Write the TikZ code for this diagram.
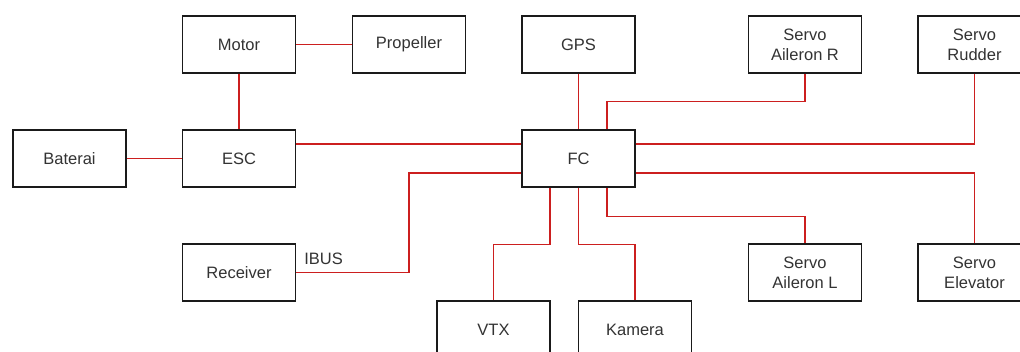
\documentclass[tikz,border=0pt]{standalone}
\usepackage{fontspec}
\setmainfont{Liberation Sans}
\definecolor{wire}{HTML}{CC1F1F}
\definecolor{txt}{HTML}{333333}
\definecolor{edge}{HTML}{1A1A1A}
\begin{document}
\begin{tikzpicture}[x=1pt,y=-1pt,
  blk/.style={draw=edge,line width=1.3pt,fill=white,rectangle,minimum width=113pt,minimum height=57pt,
    inner sep=0pt,align=center,text=txt,font=\fontsize{16.5}{20}\selectfont},
  wirel/.style={draw=wire,line width=1.4pt},
  lbl/.style={text=txt,font=\fontsize{16.5}{20}\selectfont,inner sep=0pt}]
\useasboundingbox (0,0) rectangle (1020,352);
\node[blk] (motor) at (239,44.5) {Motor};
\node[blk] (prop) at (409,44.5) {Propeller};
\node[blk] (bat) at (69.5,158.5) {Baterai};
\node[blk] (esc) at (239,158.5) {ESC};
\node[blk] (gps) at (578.5,44.5) {GPS};
\node[blk] (ailr) at (805,44.5) {Servo\\Aileron R};
\node[blk] (rud) at (974.5,44.5) {Servo\\Rudder};
\node[blk] (fc) at (578.5,158.5) {FC};
\node[blk] (rec) at (239,272.5) {Receiver};
\node[blk] (aill) at (805,272.5) {Servo\\Aileron L};
\node[blk] (elev) at (974.5,272.5) {Servo\\Elevator};
\node[blk] (vtx) at (493.5,329.5) {VTX};
\node[blk] (cam) at (635,329.5) {Kamera};
\node[lbl,anchor=west] (ibus) at ([xshift=8pt,yshift=13.5pt]rec.east) {IBUS};
\draw[wirel] (motor.east) -- (prop.west);
\draw[wirel] (motor.south) -- (esc.north);
\draw[wirel] (bat.east) -- (esc.west);
\draw[wirel] ([yshift=14.5pt]esc.east) -- ([yshift=14.5pt]fc.west);
\draw[wirel] (gps.south) -- (fc.north);
\draw[wirel] ([xshift=28.5pt]fc.north) -- ++(0,-28) -| (ailr.south);
\draw[wirel] ([yshift=14.5pt]fc.east) -| (rud.south);
\draw[wirel] ([yshift=-14.5pt]fc.east) -| (elev.north);
\draw[wirel] ([xshift=28.5pt]fc.south) -- ++(0,29) -| (aill.north);
\draw[wirel] (fc.south) -- ++(0,57) -| (cam.north);
\draw[wirel] ([xshift=-28.5pt]fc.south) -- ++(0,57) -| (vtx.north);
\draw[wirel] (rec.east) -- ++(113,0) |- ([yshift=-14.5pt]fc.west);
\end{tikzpicture}
\end{document}
